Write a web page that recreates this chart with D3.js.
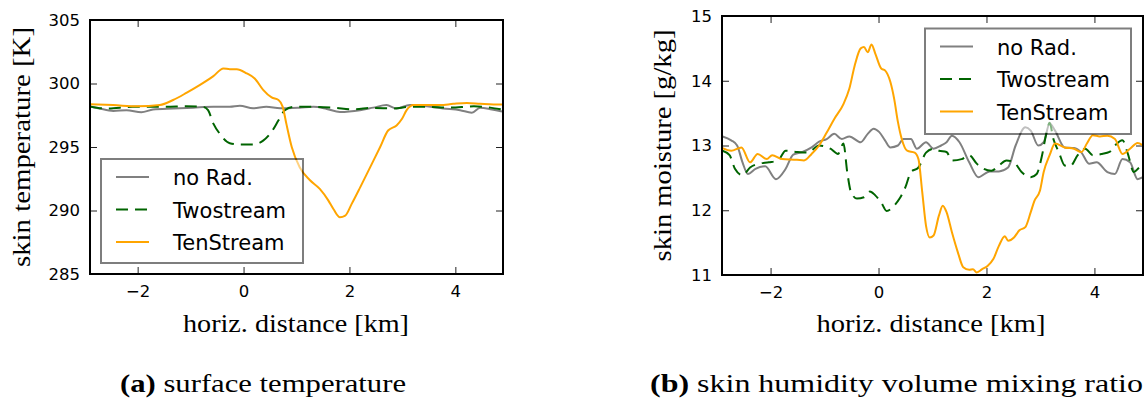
<!DOCTYPE html>
<html>
<head>
<meta charset="utf-8">
<script src="https://cdn.jsdelivr.net/npm/d3@7"></script>
<style>
  body { margin: 0; background: #fff; }
  svg { display: block; }
</style>
</head>
<body>
<svg id="fig" width="1147" height="408"></svg>
<script>
// series names (legend order)
var seriesNames = ["no Rad.", "Twostream", "TenStream"];

// x ticks shared by both panels (km)
var xTicks = [-2, 0, 2, 4];
var tempTicks = [285, 290, 295, 300, 305];
var moistTicks = [11, 12, 13, 14, 15];

// (a) skin temperature [K], pairs of [km, value]
var tempNoRad = [[-2.90,298.20],[-2.72,298.03],[-2.46,297.84],[-2.21,297.90],[-1.93,297.74],[-1.71,297.95],[-1.33,298.03],[-0.95,298.10],[-0.57,298.16],[-0.26,298.16],[-0.07,298.24],[0.18,298.05],[0.43,298.16],[0.69,298.05],[1.06,298.10],[1.32,298.16],[1.57,298.00],[1.82,297.76],[2.20,297.90],[2.45,298.10],[2.70,298.30],[2.89,298.03],[3.14,298.30],[3.46,298.20],[3.77,298.03],[4.09,297.90],[4.31,297.70],[4.47,298.10],[4.69,297.95],[4.88,297.80]];
var tempTwo = [[-2.90,298.20],[-2.59,298.03],[-2.09,298.16],[-1.46,298.16],[-1.08,298.20],[-0.76,298.16],[-0.67,297.90],[-0.57,296.84],[-0.45,296.05],[-0.26,295.30],[-0.07,295.20],[0.18,295.20],[0.37,295.50],[0.53,296.20],[0.66,297.10],[0.78,297.90],[0.94,298.16],[1.32,298.16],[1.70,298.10],[2.07,297.97],[2.45,298.08],[2.83,298.03],[3.14,298.16],[3.46,298.16],[3.90,298.10],[4.35,298.20],[4.66,298.10],[4.88,297.95]];
var tempTen = [[-2.90,298.37],[-2.46,298.30],[-2.00,298.20],[-1.58,298.30],[-1.33,298.70],[-1.08,299.26],[-0.83,299.87],[-0.57,300.58],[-0.38,301.18],[-0.26,301.13],[-0.13,301.13],[0.06,300.80],[0.21,300.40],[0.37,299.50],[0.53,298.90],[0.66,298.70],[0.74,298.16],[0.81,296.80],[0.91,295.00],[1.06,293.40],[1.25,292.40],[1.44,291.70],[1.60,290.80],[1.70,290.10],[1.82,289.47],[1.92,289.60],[2.04,290.50],[2.20,291.80],[2.39,293.40],[2.58,295.00],[2.73,296.30],[2.89,296.70],[2.99,297.20],[3.08,297.90],[3.21,298.30],[3.46,298.30],[3.71,298.30],[3.96,298.40],[4.22,298.47],[4.47,298.40],[4.72,298.34],[4.88,298.34]];

// (b) skin moisture [g/kg]
var moistNoRad = [[-2.89,13.14],[-2.73,13.08],[-2.62,13.00],[-2.52,12.74],[-2.42,12.56],[-2.28,12.64],[-2.10,12.68],[-1.90,12.48],[-1.72,12.64],[-1.58,12.86],[-1.41,12.90],[-1.24,12.97],[-1.10,13.06],[-0.96,13.10],[-0.82,13.18],[-0.68,13.10],[-0.54,13.14],[-0.33,13.05],[-0.20,13.18],[-0.09,13.26],[0.01,13.21],[0.12,13.08],[0.22,12.97],[0.36,13.00],[0.46,13.10],[0.60,13.10],[0.71,12.95],[0.88,13.05],[1.02,12.95],[1.16,13.00],[1.26,13.05],[1.36,13.15],[1.50,13.05],[1.68,12.74],[1.85,12.51],[2.06,12.60],[2.23,12.60],[2.40,12.66],[2.54,13.00],[2.72,13.28],[2.82,13.23],[2.96,13.00],[3.06,13.05],[3.17,13.34],[3.27,13.23],[3.45,12.97],[3.62,12.96],[3.76,12.89],[3.90,12.72],[4.04,12.74],[4.24,12.59],[4.38,12.56],[4.52,12.79],[4.66,12.74],[4.80,12.48],[4.90,12.51]];
var moistTwo = [[-2.89,12.92],[-2.76,12.85],[-2.66,12.64],[-2.52,12.54],[-2.38,12.66],[-2.21,12.72],[-2.03,12.74],[-1.86,12.77],[-1.72,12.92],[-1.51,12.90],[-1.31,12.89],[-1.10,13.00],[-0.89,12.95],[-0.75,12.87],[-0.65,13.03],[-0.58,12.59],[-0.51,12.28],[-0.40,12.18],[-0.27,12.20],[-0.16,12.29],[-0.06,12.23],[0.05,12.12],[0.15,11.99],[0.29,12.07],[0.39,12.18],[0.50,12.36],[0.60,12.59],[0.74,12.66],[0.88,12.89],[1.02,12.95],[1.12,12.92],[1.26,12.90],[1.36,12.77],[1.54,12.79],[1.68,12.85],[1.82,12.72],[1.95,12.64],[2.09,12.61],[2.23,12.69],[2.37,12.77],[2.51,12.74],[2.65,12.59],[2.82,12.51],[2.93,12.56],[3.03,12.85],[3.10,13.15],[3.17,13.35],[3.24,13.10],[3.34,12.90],[3.45,12.69],[3.55,12.68],[3.69,12.85],[3.83,12.95],[3.97,12.85],[4.14,12.87],[4.28,12.90],[4.38,13.00],[4.52,13.08],[4.62,12.87],[4.73,12.59],[4.83,12.66],[4.90,12.69]];
var moistTen = [[-2.89,12.96],[-2.73,12.92],[-2.54,12.97],[-2.38,12.74],[-2.24,12.87],[-2.07,12.79],[-1.97,12.85],[-1.79,12.79],[-1.51,12.78],[-1.38,12.77],[-1.24,12.87],[-1.10,13.00],[-0.96,13.20],[-0.82,13.41],[-0.65,13.64],[-0.54,13.88],[-0.44,14.24],[-0.33,14.50],[-0.27,14.52],[-0.20,14.44],[-0.13,14.56],[-0.06,14.42],[0.05,14.19],[0.12,14.16],[0.22,13.98],[0.29,13.72],[0.36,13.36],[0.43,13.10],[0.53,12.92],[0.67,12.89],[0.74,12.79],[0.81,12.28],[0.88,11.76],[0.95,11.58],[1.02,11.61],[1.12,11.92],[1.19,12.07],[1.26,11.97],[1.36,11.66],[1.47,11.35],[1.57,11.12],[1.68,11.08],[1.75,11.09],[1.82,11.04],[1.92,11.09],[2.02,11.14],[2.13,11.25],[2.23,11.45],[2.34,11.60],[2.40,11.53],[2.51,11.58],[2.61,11.69],[2.72,11.74],[2.82,11.97],[2.89,12.15],[2.99,12.30],[3.06,12.59],[3.17,12.85],[3.27,13.03],[3.45,12.97],[3.62,12.95],[3.76,12.90],[3.86,13.03],[3.97,13.16],[4.10,13.14],[4.24,13.15],[4.38,13.10],[4.52,12.87],[4.66,12.95],[4.80,13.04],[4.90,13.00]];

var colors = ["#808080", "#006400", "#ffa500"];
var dashes = [null, "12,7", null];

var svg = d3.select("#fig");
var tickFont = "'DejaVu Sans', sans-serif";
var serif = "'Liberation Serif', 'DejaVu Serif', serif";
var intFmt = d3.format("d");

function panel(o) {
  var x = d3.scaleLinear().domain([-2.9, 4.9]).range([o.left, o.right]);
  var y = d3.scaleLinear().domain(o.yDomain).range([o.bottom, o.top]);
  var g = svg.append("g");

  g.append("clipPath").attr("id", o.id + "clip")
    .append("rect")
    .attr("x", o.left).attr("y", o.top)
    .attr("width", o.right - o.left).attr("height", o.bottom - o.top);

  // axes, ticks pointing inward
  var bottom = g.append("g").attr("transform", "translate(0," + o.bottom + ")")
    .call(d3.axisBottom(x).tickValues(xTicks).tickSize(-7).tickPadding(11));
  var top = g.append("g").attr("transform", "translate(0," + o.top + ")")
    .call(d3.axisTop(x).tickValues(xTicks).tickSize(-7).tickFormat(""));
  var left = g.append("g").attr("transform", "translate(" + o.left + ",0)")
    .call(d3.axisLeft(y).tickValues(o.yTicks).tickFormat(intFmt).tickSize(-7).tickPadding(10));
  var right = g.append("g").attr("transform", "translate(" + o.right + ",0)")
    .call(d3.axisRight(y).tickValues(o.yTicks).tickSize(-7).tickFormat(""));

  [bottom, top, left, right].forEach(function(a) {
    a.select(".domain").remove();
    a.selectAll("line").attr("stroke", "#222").attr("stroke-width", 1);
    a.selectAll("text").attr("fill", "#000")
      .style("font-family", tickFont).style("font-size", "16.5px");
  });

  var line = d3.line()
    .x(function(d) { return x(d[0]); })
    .y(function(d) { return y(d[1]); })
    .curve(d3.curveMonotoneX);

  var lines = g.append("g").attr("clip-path", "url(#" + o.id + "clip)");
  o.series.forEach(function(s, i) {
    lines.append("path")
      .datum(s)
      .attr("d", line)
      .attr("fill", "none")
      .attr("stroke", colors[i])
      .attr("stroke-width", 2)
      .attr("stroke-dasharray", dashes[i]);
  });

  // frame
  g.append("rect")
    .attr("x", o.left).attr("y", o.top)
    .attr("width", o.right - o.left).attr("height", o.bottom - o.top)
    .attr("fill", "none").attr("stroke", "#000").attr("stroke-width", 2);

  // legend (half transparent, like framealpha 0.5)
  var lg = g.append("g");
  lg.append("rect")
    .attr("x", o.legend.x).attr("y", o.legend.y)
    .attr("width", o.legend.w).attr("height", o.legend.h)
    .attr("fill", "#fff").attr("stroke", "#000").attr("stroke-width", 2)
    .attr("opacity", 0.5);
  seriesNames.forEach(function(name, i) {
    var cy = o.legend.y + 18 + i * 32.5;
    lg.append("line")
      .attr("x1", o.legend.x + 15).attr("x2", o.legend.x + 48)
      .attr("y1", cy).attr("y2", cy)
      .attr("stroke", colors[i]).attr("stroke-width", 2)
      .attr("stroke-dasharray", dashes[i]);
    lg.append("text")
      .attr("x", o.legend.x + 72).attr("y", cy + 8)
      .style("font-family", tickFont).style("font-size", "21px")
      .text(name);
  });

  // axis labels
  g.append("text")
    .attr("transform", "translate(" + o.yLabelX + "," + (o.top + o.bottom) / 2 + ") rotate(-90)")
    .attr("text-anchor", "middle")
    .attr("textLength", o.yLabelLen).attr("lengthAdjust", "spacingAndGlyphs")
    .style("font-family", serif).style("font-size", "25px")
    .text(o.yLabel);

  g.append("text")
    .attr("x", o.xLabelX).attr("y", 332)
    .attr("text-anchor", "middle")
    .attr("textLength", o.xLabelLen).attr("lengthAdjust", "spacingAndGlyphs")
    .style("font-family", serif).style("font-size", "25px")
    .text("horiz. distance [km]");

  // caption
  var cap = g.append("text")
    .attr("x", o.capX).attr("y", 392)
    .attr("textLength", o.capLen).attr("lengthAdjust", "spacingAndGlyphs")
    .style("font-family", serif).style("font-size", "25px");
  cap.append("tspan").style("font-weight", "bold").text(o.capTag);
  cap.append("tspan").text(" " + o.capText);
}

panel({
  id: "a", left: 90, right: 503, top: 20, bottom: 274,
  yDomain: [285, 305], yTicks: tempTicks,
  series: [tempNoRad, tempTwo, tempTen],
  legend: {x: 101, y: 159, w: 202, h: 104},
  yLabel: "skin temperature [K]", yLabelX: 30, yLabelLen: 240,
  xLabelX: 296, xLabelLen: 226,
  capX: 120, capLen: 286, capTag: "(a)", capText: "surface temperature"
});

panel({
  id: "b", left: 722, right: 1143, top: 16, bottom: 275,
  yDomain: [11, 15], yTicks: moistTicks,
  series: [moistNoRad, moistTwo, moistTen],
  legend: {x: 925, y: 28.5, w: 206, h: 105.5},
  yLabel: "skin moisture [g/kg]", yLabelX: 671, yLabelLen: 232,
  xLabelX: 931, xLabelLen: 229,
  capX: 650, capLen: 493, capTag: "(b)", capText: "skin humidity volume mixing ratio"
});
</script>
</body>
</html>
